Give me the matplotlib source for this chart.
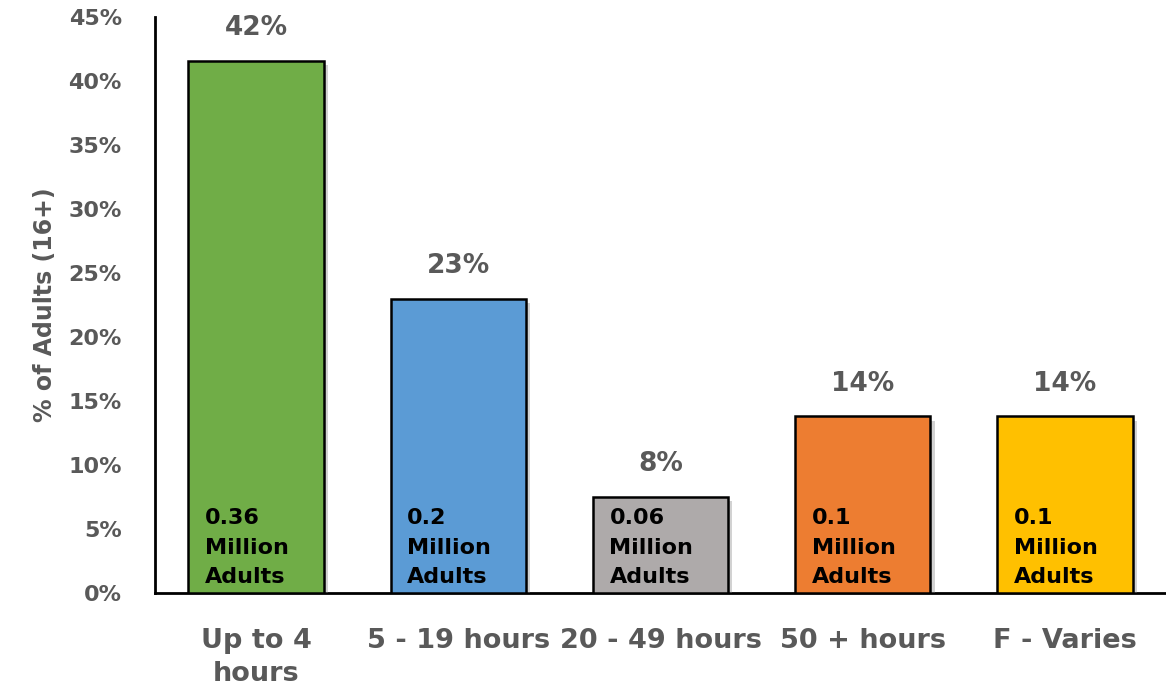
import matplotlib
matplotlib.use("Agg")
import matplotlib.pyplot as plt
import matplotlib.patheffects as pe
from matplotlib.ticker import FuncFormatter, MultipleLocator

categories = ["Up to 4\nhours", "5 - 19 hours", "20 - 49 hours", "50 + hours", "F - Varies"]
values = [41.6, 23.0, 7.5, 13.8, 13.8]
pct_labels = ["42%", "23%", "8%", "14%", "14%"]
inner_labels = ["0.36\nMillion\nAdults", "0.2\nMillion\nAdults", "0.06\nMillion\nAdults",
                "0.1\nMillion\nAdults", "0.1\nMillion\nAdults"]
colors = ["#70AD47", "#5B9BD5", "#AEAAAA", "#ED7D31", "#FFC000"]

plt.rcParams['font.family'] = ['DejaVu Sans']
plt.rcParams['font.weight'] = 'bold'

fig = plt.figure(figsize=(11.66, 6.95), dpi=100)
ax = fig.add_axes([0.133, 0.147, 0.867, 0.828])

x = list(range(len(categories)))
width = 0.67
bars = ax.bar(x, values, width=width, color=colors, edgecolor="black", linewidth=1.8,
              zorder=3)
for b in bars:
    b.set_path_effects([pe.SimplePatchShadow(offset=(3, -3), shadow_rgbFace="#808080", alpha=0.35),
                        pe.Normal()])

gray = "#595959"
for xi, v, lab in zip(x, values, pct_labels):
    ax.annotate(lab, xy=(xi, v), xytext=(0, 14), textcoords="offset points",
                ha="center", va="bottom", fontsize=19, fontweight="bold", color=gray)

for xi, lab in zip(x, inner_labels):
    ax.annotate(lab, xy=(xi - width / 2, 0), xytext=(12, 4), textcoords="offset points",
                ha="left", va="bottom", fontsize=16, fontweight="bold", color="black",
                linespacing=1.6, zorder=5)

ax.set_ylim(0, 45)
ax.set_xlim(-0.5, len(categories) - 0.5)
ax.yaxis.set_major_locator(MultipleLocator(5))
ax.yaxis.set_major_formatter(FuncFormatter(lambda v, p: f"{v:.0f}%"))
ax.set_xticks(x)
ax.set_xticklabels(categories, fontsize=19.5, fontweight="bold", color=gray, linespacing=1.35)
for t in ax.get_yticklabels():
    t.set_fontsize(16)
    t.set_fontweight("bold")
    t.set_color(gray)
ax.tick_params(axis="both", length=0)
ax.tick_params(axis="y", pad=24)
ax.tick_params(axis="x", pad=25)
ax.set_ylabel("% of Adults (16+)", fontsize=17, fontweight="bold", color=gray, labelpad=8)

for s in ["top", "right"]:
    ax.spines[s].set_visible(False)
for s in ["left", "bottom"]:
    ax.spines[s].set_linewidth(2)
    ax.spines[s].set_color("black")

fig.savefig("out.png", dpi=100)
